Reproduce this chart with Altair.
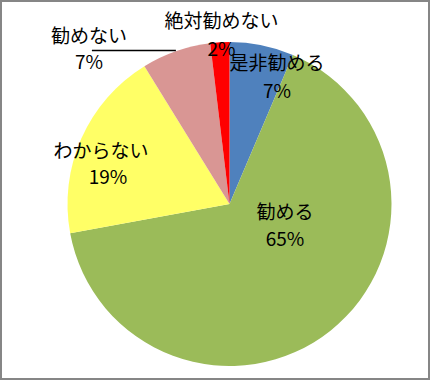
import altair as alt
import pandas as pd
import math

# ---- data ----
categories = ["是非勧める", "勧める", "わからない", "勧めない", "絶対勧めない"]
values = [6.4, 65.7, 19.1, 6.9, 1.9]
pct_labels = ["7%", "65%", "19%", "7%", "2%"]
colors = ["#4F81BD", "#9BBB59", "#FFFF66", "#D99694", "#FF0000"]

total = sum(values)
df = pd.DataFrame({
    "category": categories,
    "value": values,
    "pct": pct_labels,
    "order": list(range(len(categories))),
})
df["mid"] = df["value"].cumsum() - df["value"] / 2

# ---- layout ----
W, H = 430, 380
CX, CY, R = 229.5, 204, 162
FONT = "Noto Sans CJK JP"
FS = 19

# label nudges: category -> (radius, name_dx, name_dy, pct_dx, pct_dy)
label_layout = {
    "是非勧める": (134.6, 20.6, -8.1, 20.6, 19.9),
    "勧める": (59.9, 18, -37.7, 18, -10.7),
    "わからない": (131, -8.8, 1.3, -1.8, 27.3),
    "勧めない": (208.5, -71.7, 29.8, -71.7, 55.8),
    "絶対勧めない": (154.2, 1.2, -28.1, 1.2, -0.1),
}

theta_scale = alt.Scale(domain=[0, total])
base = alt.Chart(df)

pie = base.mark_arc(outerRadius=R).encode(
    theta=alt.Theta("value:Q", stack=True, scale=theta_scale),
    color=alt.Color("category:N", scale=alt.Scale(domain=categories, range=colors), legend=None),
    order=alt.Order("order:Q"),
    x=alt.value(CX),
    y=alt.value(CY),
)

layers = [pie]
for cat, (r, ndx, ndy, pdx, pdy) in label_layout.items():
    for field, dx, dy in (("category", ndx, ndy), ("pct", pdx, pdy)):
        layers.append(
            base.transform_filter(alt.datum.category == cat)
            .mark_text(font=FONT, fontSize=FS, color="black", align="center",
                       baseline="middle", dx=dx, dy=dy)
            .encode(
                theta=alt.Theta("mid:Q", stack=None, scale=theta_scale),
                radius=alt.value(r),
                x=alt.value(CX),
                y=alt.value(CY),
                text=f"{field}:N",
            )
        )

# leader line for 勧めない, ending at the slice's mid-angle on the rim
pink_mid = float(df.loc[df.category == "勧めない", "mid"].iloc[0]) / total * 2 * math.pi
ex = CX + (R + 0.5) * math.sin(pink_mid)
ey = CY - (R + 0.5) * math.cos(pink_mid)
line_df = pd.DataFrame({"x1": [ex - 84], "x2": [ex], "y": [ey]})
leader = alt.Chart(line_df).mark_rule(color="black", strokeWidth=1.5).encode(
    x=alt.X("x1:Q", scale=None),
    x2="x2:Q",
    y=alt.Y("y:Q", scale=None),
)
layers.append(leader)

chart = alt.layer(*layers).properties(
    width=W, height=H, padding=0, autosize=alt.AutoSizeParams(type="none"),
    background="white",
).configure_view(stroke="#868686", strokeWidth=4)

chart.save("out.html", embed_options={"renderer": "svg", "actions": False})
